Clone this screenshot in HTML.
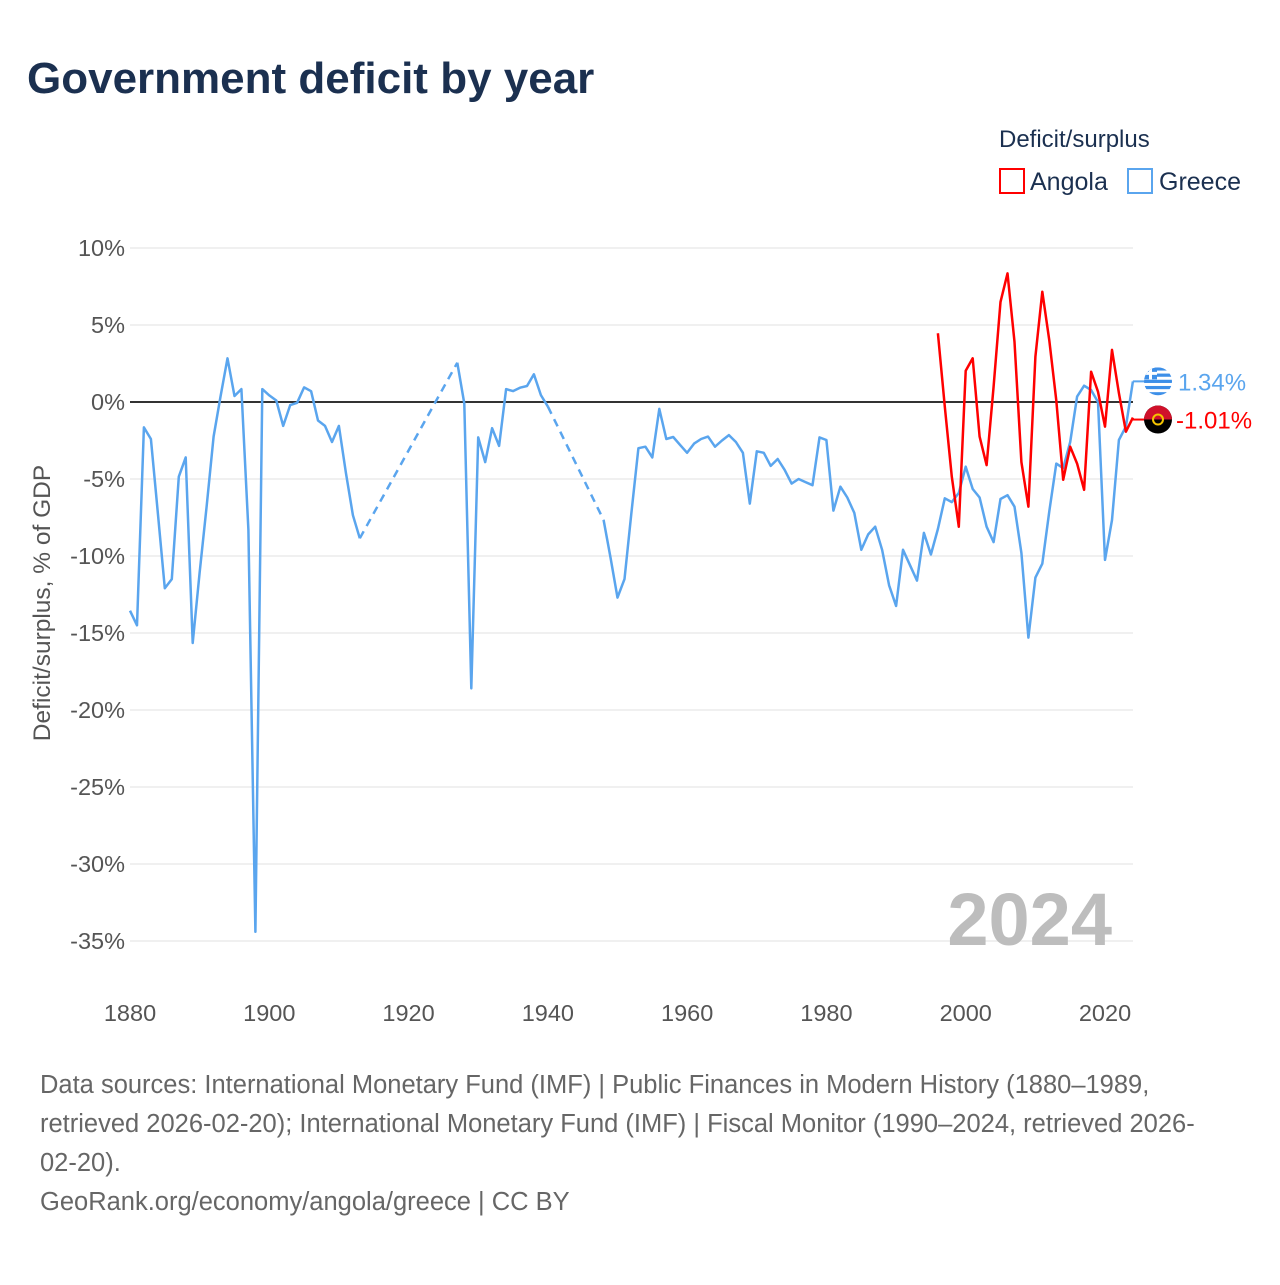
<!DOCTYPE html>
<html><head><meta charset="utf-8">
<style>
html,body{margin:0;padding:0;background:#fff;}
body{width:1280px;height:1280px;position:relative;overflow:hidden;font-family:"Liberation Sans",sans-serif;}
svg text{font-family:"Liberation Sans",sans-serif;}
</style></head>
<body>
<svg id="chart" width="1280" height="1280" viewBox="0 0 1280 1280">
<defs><clipPath id="gclip"><circle id="gclipc" cx="1158" cy="382" r="14"/></clipPath></defs>
<text x="27" y="93" font-size="44" font-weight="bold" fill="#1b3050">Government deficit by year</text>
<text x="999" y="147" font-size="24" fill="#1b3050">Deficit/surplus</text>
<g>
<rect x="1000" y="169" width="24" height="24" fill="none" stroke="#ff0000" stroke-width="2"/>
<text x="1030" y="190" font-size="25" fill="#1b3050">Angola</text></g>
<g>
<rect x="1128" y="169" width="24" height="24" fill="none" stroke="#5aa5ee" stroke-width="2"/>
<text x="1159" y="190" font-size="25" fill="#1b3050">Greece</text></g>
<g id="grid"></g>
<g id="xticks"></g>
<text x="1112" y="945" font-size="74" font-weight="bold" fill="#bdbdbd" text-anchor="end">2024</text>
<g id="series"></g>
<text transform="translate(50,603) rotate(-90)" font-size="24.5" fill="#555" text-anchor="middle">Deficit/surplus, % of GDP</text>
<g font-size="25.5" fill="#666">
<text x="40" y="1093">Data sources: International Monetary Fund (IMF) | Public Finances in Modern History (1880–1989,</text>
<text x="40" y="1132">retrieved 2026-02-20); International Monetary Fund (IMF) | Fiscal Monitor (1990–2024, retrieved 2026-</text>
<text x="40" y="1171">02-20).</text>
<text x="40" y="1210">GeoRank.org/economy/angola/greece | CC BY</text>
</g>
</svg>
<script>
const yTicks=[10,5,0,-5,-10,-15,-20,-25,-30,-35];
const xTicks=[1880,1900,1920,1940,1960,1980,2000,2020];
const greeceYears=[1880,1881,1882,1883,1884,1885,1886,1887,1888,1889,1890,1891,1892,1893,1894,1895,1896,1897,1898,1899,1900,1901,1902,1903,1904,1905,1906,1907,1908,1909,1910,1911,1912,1913,1927,1928,1929,1930,1931,1932,1933,1934,1935,1936,1937,1938,1939,1940,1948,1949,1950,1951,1952,1953,1954,1955,1956,1957,1958,1959,1960,1961,1962,1963,1964,1965,1966,1967,1968,1969,1970,1971,1972,1973,1974,1975,1976,1977,1978,1979,1980,1981,1982,1983,1984,1985,1986,1987,1988,1989,1990,1991,1992,1993,1994,1995,1996,1997,1998,1999,2000,2001,2002,2003,2004,2005,2006,2007,2008,2009,2010,2011,2012,2013,2014,2015,2016,2017,2018,2019,2020,2021,2022,2023,2024];
const greeceValues=[-13.55,-14.5,-1.65,-2.4,-7.25,-12.1,-11.5,-4.85,-3.6,-15.65,-11.1,-6.8,-2.25,0.35,2.84,0.39,0.84,-8.3,-34.4,0.84,0.43,0.1,-1.55,-0.2,-0.05,0.95,0.7,-1.2,-1.55,-2.6,-1.55,-4.6,-7.35,-8.85,2.55,-0.1,-18.6,-2.3,-3.9,-1.7,-2.85,0.84,0.71,0.93,1.04,1.8,0.45,-0.3,-7.66,-10.1,-12.7,-11.5,-7.2,-3.0,-2.9,-3.6,-0.45,-2.4,-2.27,-2.8,-3.3,-2.7,-2.4,-2.25,-2.9,-2.5,-2.15,-2.6,-3.3,-6.6,-3.2,-3.3,-4.15,-3.7,-4.4,-5.3,-5.0,-5.2,-5.4,-2.3,-2.47,-7.05,-5.5,-6.2,-7.2,-9.6,-8.6,-8.1,-9.6,-11.9,-13.25,-9.6,-10.6,-11.6,-8.5,-9.9,-8.25,-6.25,-6.5,-5.9,-4.2,-5.65,-6.2,-8.1,-9.1,-6.3,-6.05,-6.8,-9.8,-15.3,-11.4,-10.5,-7.1,-4.0,-4.3,-2.6,0.35,1.06,0.78,0.0,-10.25,-7.66,-2.47,-1.6,1.34];
const angolaYears=[1996,1997,1998,1999,2000,2001,2002,2003,2004,2005,2006,2007,2008,2009,2010,2011,2012,2013,2014,2015,2016,2017,2018,2019,2020,2021,2022,2023,2024];
const angolaValues=[4.46,-0.3,-4.85,-8.1,2.03,2.84,-2.25,-4.1,1.0,6.5,8.35,3.9,-3.9,-6.8,2.95,7.16,4.0,0.1,-5.05,-2.9,-4.0,-5.7,1.97,0.67,-1.6,3.38,0.58,-1.93,-1.01];

const NS="http://www.w3.org/2000/svg";
const X=yr=>130+(yr-1880)*(975/140);
const Y=v=>402-v*15.4;
function mk(tag,attrs,parent){const e=document.createElementNS(NS,tag);for(const k in attrs)e.setAttribute(k,attrs[k]);parent.appendChild(e);return e;}
const grid=document.getElementById('grid');
yTicks.forEach(t=>{
  const l=mk('line',{x1:130,x2:1133,y1:Y(t),y2:Y(t),stroke:'#ebebeb','stroke-width':1.5},grid);
  
  
  const tx=mk('text',{x:125,y:Y(t)+8,'font-size':23.5,fill:'#555','text-anchor':'end'},grid);
  tx.textContent=t+'%';
  
  
});
const xt=document.getElementById('xticks');
xTicks.forEach(t=>{
  const tx=mk('text',{x:X(t),y:1021,'font-size':23.5,fill:'#555','text-anchor':'middle'},xt);
  tx.textContent=t;
  
  
});
const s=document.getElementById('series');
const zl=mk('line',{x1:130,x2:1133,y1:Y(0),y2:Y(0),stroke:'#333','stroke-width':2},s);


function drawSeries(years,vals,color,name){
  const g=mk('g',{},s);
  
  
  let seg=[[years[0],vals[0]]];
  const segs=[];
  for(let i=1;i<years.length;i++){
    if(years[i]-years[i-1]>1){segs.push({pts:seg,dash:false});segs.push({pts:[[years[i-1],vals[i-1]],[years[i],vals[i]]],dash:true});seg=[];}
    seg.push([years[i],vals[i]]);
  }
  segs.push({pts:seg,dash:false});
  segs.forEach(sg=>{
    const p=mk('polyline',{points:sg.pts.map(q=>X(q[0]).toFixed(1)+','+Y(q[1]).toFixed(1)).join(' '),fill:'none',stroke:color,'stroke-width':2.5,'stroke-linejoin':'round'},g);
    if(sg.dash)p.setAttribute('stroke-dasharray','8,6');
    
    
  });
}
drawSeries(greeceYears,greeceValues,'#5aa5ee','greece-series');
drawSeries(angolaYears,angolaValues,'#ff0000','angola-series');
const gl=greeceValues[greeceValues.length-1], al=angolaValues[angolaValues.length-1];
const gy=Y(gl), ay=Y(al)+2;
document.getElementById('gclipc').setAttribute('cy',gy);
const c1=mk('line',{x1:X(2024),y1:gy,x2:1146,y2:gy,stroke:'#5aa5ee','stroke-width':2},s);

const c2=mk('line',{x1:X(2024),y1:ay,x2:1146,y2:ay,stroke:'#ff0000','stroke-width':2},s);

const fg=mk('g',{'clip-path':'url(#gclip)'},s);


mk('rect',{x:1144,y:gy-14,width:28,height:28,fill:'#fff'},fg);
for(let i=0;i<5;i++){mk('rect',{x:1144,y:gy-14+i*6.2,width:28,height:3.2,fill:'#3d8fe8'},fg);}
mk('rect',{x:1144,y:gy-14,width:13,height:12,fill:'#3d8fe8'},fg);
mk('rect',{x:1149,y:gy-14,width:3,height:12,fill:'#fff'},fg);
mk('rect',{x:1144,y:gy-9.5,width:13,height:3,fill:'#fff'},fg);
const fa=mk('g',{},s);


mk('circle',{cx:1158,cy:ay,r:14,fill:'#000'},fa);
mk('path',{d:`M1144 ${ay} A14 14 0 0 1 1172 ${ay} Z`,fill:'#d0102a'},fa);
mk('circle',{cx:1158,cy:ay,r:5,fill:'none',stroke:'#f4c400','stroke-width':2},fa);
const t1=mk('text',{x:1178,y:gy+9,'font-size':24,fill:'#5aa5ee'},s);
t1.textContent=gl.toFixed(2)+'%';


const t2=mk('text',{x:1176,y:ay+9,'font-size':24,fill:'#ff0000'},s);
t2.textContent=al.toFixed(2)+'%';


</script>
</body></html>
